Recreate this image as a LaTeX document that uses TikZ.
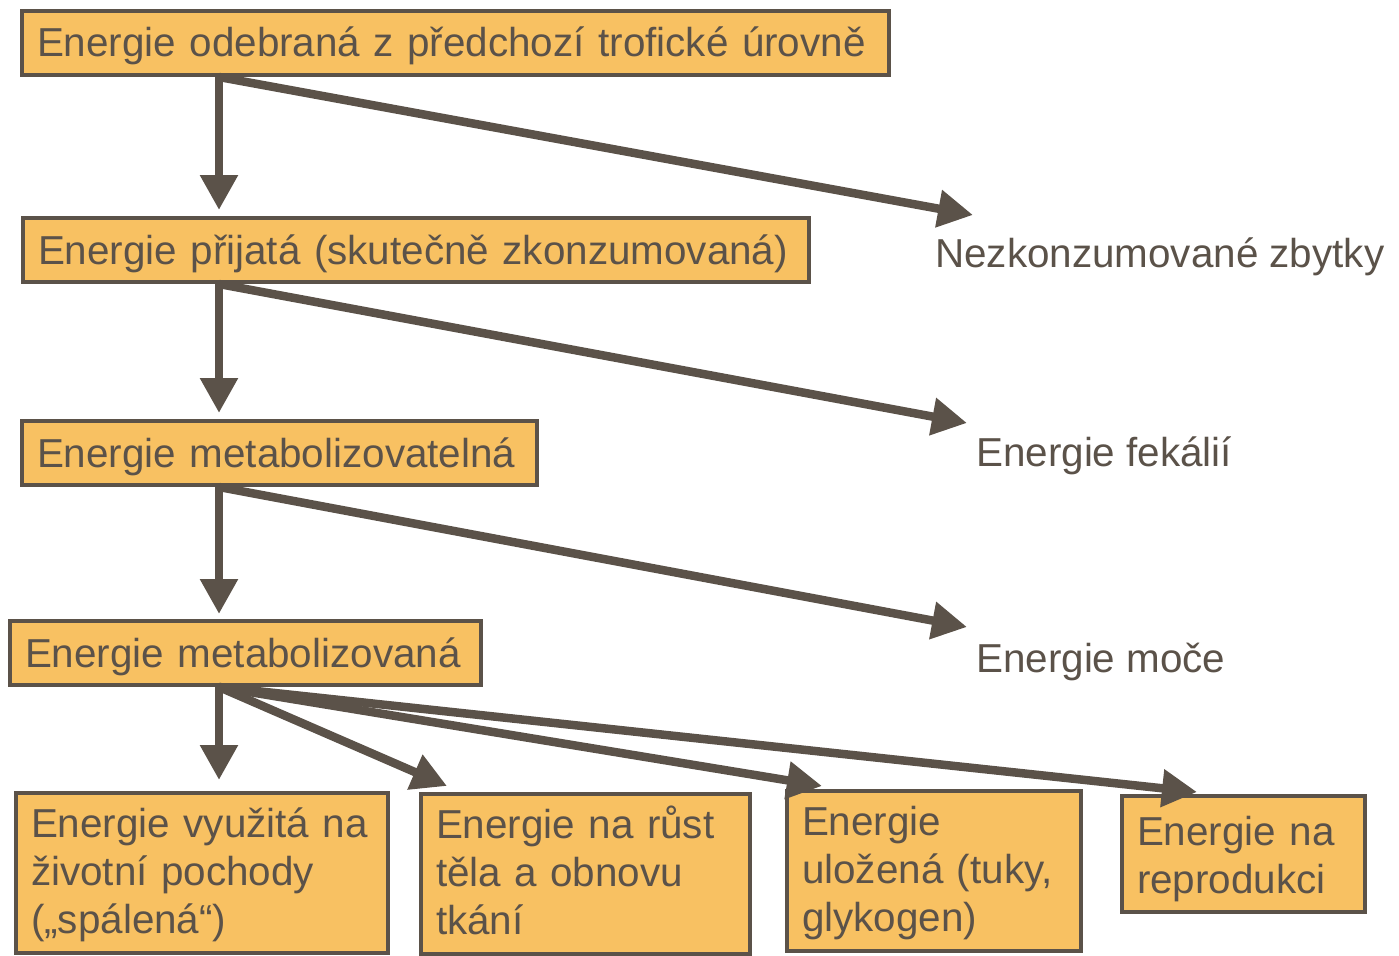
\documentclass[tikz,border=0pt]{standalone}
\usepackage{fontspec}
\setmainfont{Liberation Sans}
\usepackage{xcolor}
\usetikzlibrary{arrows.meta, positioning, calc}
\definecolor{boxfill}{HTML}{F8C162}
\definecolor{ink}{HTML}{5B5249}
\hyphenpenalty=10000
\exhyphenpenalty=10000

\begin{document}
\begin{tikzpicture}[
    x=1pt, y=1pt,
    >={Triangle[length=35pt,width=36pt]},
    every node/.style={font=\fontsize{40.4}{48}\selectfont, text=ink},
    level/.style={draw=ink, line width=4pt, fill=boxfill, anchor=north west, inner xsep=15pt, inner ysep=0pt, minimum height=64pt, align=left, text height=30pt, text depth=2pt},
    sink/.style={level, text height=44pt, text depth=116pt},
    loss/.style={anchor=base west, inner sep=0pt},
    flow/.style={->, draw=ink, line width=8.5pt},
  ]
  \useasboundingbox (0,0) rectangle (1399,-955);
  % trophic chain
  \node[level, text width=837pt] (odebrana) at (20,-9) {Energie odebraná z předchozí trofické úrovně};
  \node[level, text width=756pt] (prijata) at (21,-216) {Energie přijatá (skutečně zkonzumovaná)};
  \node[level, text width=485pt] (metabolizovatelna) at (20,-419) {Energie metabolizovatelná};
  \node[level, text width=441pt] (metabolizovana) at (8,-619) {Energie metabolizovaná};
  % losses
  \node[loss] (zbytky) at (935,-267) {Nezkonzumované zbytky};
  \node[loss] (fekalie) at (976,-466) {Energie fekálií};
  \node[loss] (moc) at (976,-672) {Energie moče};
  % sinks
  \node[sink, text width=342pt] (vyuzita) at (14,-791) {Energie využitá na\\životní pochody\\(„spálená“)};
  \node[sink, text width=299pt] (rust) at (419,-792) {Energie na růst\\těla a obnovu\\tkání};
  \node[sink, text width=264pt] (ulozena) at (785,-789) {Energie\\uložená (tuky,\\glykogen)};
  \node[level, text width=213pt, text height=49pt, text depth=67pt] (reprodukce) at (1120,-794) {Energie na\\reprodukci};
  % flows
  \coordinate (osa) at (219,0);
  \draw[flow] (osa |- odebrana.south) -- ([yshift=6pt]osa |- prijata.north);
  \draw[flow] (osa |- odebrana.south) -- ([shift={(38pt,52pt)}]zbytky.base west);
  \draw[flow] (osa |- prijata.south) -- ([yshift=6pt]osa |- metabolizovatelna.north);
  \draw[flow] (osa |- prijata.south) -- ([shift={(-9pt,43pt)}]fekalie.base west);
  \draw[flow] (osa |- metabolizovatelna.south) -- ([yshift=5pt]osa |- metabolizovana.north);
  \draw[flow] (osa |- metabolizovatelna.south) -- ([shift={(-9pt,45pt)}]moc.base west);
  \draw[flow] (osa |- metabolizovana.south) -- ([yshift=11pt]osa |- vyuzita.north);
  \draw[flow] (osa |- metabolizovana.south) -- ([shift={(28pt,6pt)}]rust.north west);
  \draw[flow] (osa |- metabolizovana.south) -- ([shift={(37pt,3pt)}]ulozena.north west);
  \draw[flow] (osa |- metabolizovana.south) -- ([shift={(77pt,2pt)}]reprodukce.north west);
\end{tikzpicture}
\end{document}
